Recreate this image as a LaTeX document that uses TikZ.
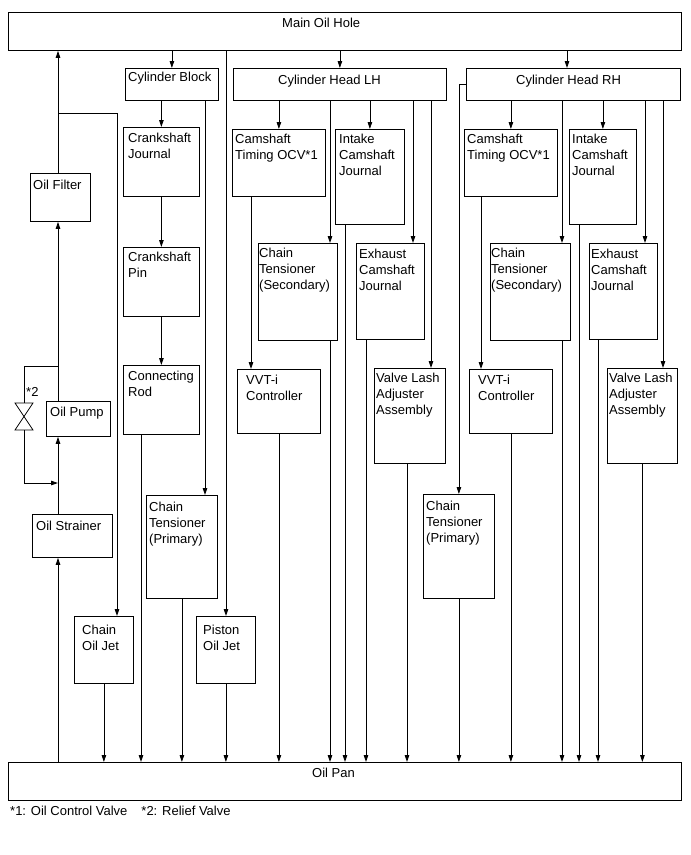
\documentclass[tikz,border=0pt]{standalone}
\usepackage{fontspec}
\setmainfont{Liberation Sans}
\usetikzlibrary{arrows.meta}

\begin{document}
\begin{tikzpicture}[x=1pt,y=-1pt,>={Triangle[length=7pt,width=4.5pt]},
  part/.style={draw,line width=0.8pt,anchor=north west,inner sep=0pt},
  lbl/.style={anchor=north west,align=left,inner xsep=3pt,inner ysep=5pt,font=\fontsize{13}{16}\selectfont},
  pipe/.style={line width=0.8pt}]
  \useasboundingbox (0,0) rectangle (691,855);

  % gallery and pan
  \node[part,minimum width=673,minimum height=38,label={[lbl,xshift=271pt,yshift=-1pt]north west:Main Oil Hole}] (hole) at (8,12) {};
  \node[part,minimum width=673,minimum height=38,label={[lbl,xshift=301pt,yshift=-1pt]north west:Oil Pan}] (pan) at (8,762) {};

  % pump side
  \node[part,minimum width=60,minimum height=48,label={[lbl,yshift=-2pt]north west:Oil Filter}] (filter) at (30,173) {};
  \node[part,minimum width=64,minimum height=35,label={[lbl,xshift=1pt,yshift=-1pt]north west:Oil Pump}] (pump) at (46,401) {};
  \node[part,minimum width=80,minimum height=43,label={[lbl,xshift=1pt,yshift=-2pt]north west:Oil Strainer}] (strainer) at (32,514) {};
  \node[part,minimum width=59,minimum height=67,label={[lbl,xshift=5pt,yshift=-4pt]north west:Chain\\Oil Jet}] (coj) at (74,616) {};
  \node[part,minimum width=59,minimum height=67,label={[lbl,xshift=4pt,yshift=-4pt]north west:Piston\\Oil Jet}] (poj) at (196,616) {};

  % cylinder block
  \node[part,minimum width=93,minimum height=32,label={[lbl,yshift=1pt]north west:Cylinder Block}] (cb) at (125,68) {};
  \node[part,minimum width=76,minimum height=69,label={[lbl,xshift=2pt,yshift=-1pt]north west:Crankshaft\\Journal}] (cj) at (123,127) {};
  \node[part,minimum width=76,minimum height=69,label={[lbl,xshift=2pt]north west:Crankshaft\\Pin}] (cp) at (123,247) {};
  \node[part,minimum width=76,minimum height=69,label={[lbl,xshift=2pt,yshift=-1pt]north west:Connecting\\Rod}] (cr) at (123,365) {};
  \node[part,minimum width=71,minimum height=103,label={[lbl,yshift=-2pt]north west:Chain\\Tensioner\\(Primary)}] (ctplh) at (146,495) {};

  % cylinder head LH
  \node[part,minimum width=213,minimum height=32,label={[lbl,xshift=42pt,yshift=-2pt]north west:Cylinder Head LH}] (chlh) at (233,68) {};
  \node[part,minimum width=93,minimum height=67,label={[lbl]north west:Camshaft\\Timing OCV*1}] (ocvlh) at (232,129) {};
  \node[part,minimum width=69,minimum height=95,label={[lbl,xshift=1pt]north west:Intake\\Camshaft\\Journal}] (icjlh) at (335,129) {};
  \node[part,minimum width=79,minimum height=97,label={[lbl,xshift=-2pt]north west:Chain\\Tensioner\\(Secondary)}] (ctslh) at (258,243) {};
  \node[part,minimum width=68,minimum height=96,label={[lbl,yshift=-1pt]north west:Exhaust\\Camshaft\\Journal}] (ecjlh) at (356,243) {};
  \node[part,minimum width=83,minimum height=64,label={[lbl,xshift=6pt,yshift=-1pt]north west:VVT-i\\Controller}] (vvtlh) at (237,369) {};
  \node[part,minimum width=71,minimum height=95,label={[lbl,xshift=-1pt]north west:Valve Lash\\Adjuster\\Assembly}] (vlalh) at (374,368) {};

  % cylinder head RH
  \node[part,minimum width=214,minimum height=32,label={[lbl,xshift=47pt,yshift=-2pt]north west:Cylinder Head RH}] (chrh) at (466,68) {};
  \node[part,minimum width=93,minimum height=67,label={[lbl]north west:Camshaft\\Timing OCV*1}] (ocvrh) at (464,129) {};
  \node[part,minimum width=67,minimum height=95,label={[lbl]north west:Intake\\Camshaft\\Journal}] (icjrh) at (569,129) {};
  \node[part,minimum width=80,minimum height=97,label={[lbl,xshift=-2pt]north west:Chain\\Tensioner\\(Secondary)}] (ctsrh) at (490,243) {};
  \node[part,minimum width=68,minimum height=96,label={[lbl,xshift=-1pt,yshift=-1pt]north west:Exhaust\\Camshaft\\Journal}] (ecjrh) at (589,243) {};
  \node[part,minimum width=83,minimum height=64,label={[lbl,xshift=6pt,yshift=-1pt]north west:VVT-i\\Controller}] (vvtrh) at (469,369) {};
  \node[part,minimum width=70,minimum height=95,label={[lbl,xshift=-1pt]north west:Valve Lash\\Adjuster\\Assembly}] (vlarh) at (607,368) {};
  \node[part,minimum width=71,minimum height=104,label={[lbl,yshift=-2pt]north west:Chain\\Tensioner\\(Primary)}] (ctprh) at (423,494) {};

  % relief valve
  \coordinate (vtop) at (24,403);
  \coordinate (vbot) at (24,430);
  \draw[pipe] (15,403) -- (33,403) -- (15,430) -- (33,430) -- cycle;
  \node[lbl,inner sep=0pt] (relief) at (26,387) {*2};

  % pump line
  \coordinate (filtertee) at (58,113);
  \coordinate (pumptee) at (58,366);
  \coordinate (strainertee) at (58,483);
  \draw[pipe,->] (58,0 |- pan.north) -- (58,0 |- strainer.south);
  \draw[pipe,->] (58,0 |- strainer.north) -- (58,0 |- pump.south);
  \draw[pipe,->] (58,0 |- pump.north) -- (58,0 |- filter.south);
  \draw[pipe,->] (58,0 |- filter.north) -- (58,0 |- hole.south);
  \draw[pipe,->] (filtertee) -- (117,113) -- (117,0 |- coj.north);
  \draw[pipe] (pumptee) -- (24,366) -- (vtop);
  \draw[pipe,->] (vbot) -- (24,483) -- (strainertee);

  % block
  \draw[pipe,->] (cb.north |- hole.south) -- (cb.north);
  \draw[pipe,->] (cj.north |- cb.south) -- (cj.north);
  \draw[pipe,->] (cj.south) -- (cp.north);
  \draw[pipe,->] (cp.south) -- (cr.north);
  \draw[pipe,->] (205,0 |- cb.south) -- (205,0 |- ctplh.north);
  \draw[pipe,->] (226,0 |- hole.south) -- (226,0 |- poj.north);

  % head LH
  \draw[pipe,->] (chlh.north |- hole.south) -- (chlh.north);
  \draw[pipe,->] (ocvlh.north |- chlh.south) -- (ocvlh.north);
  \draw[pipe,->] (330,0 |- chlh.south) -- (330,0 |- ctslh.north);
  \draw[pipe,->] (icjlh.north |- chlh.south) -- (icjlh.north);
  \draw[pipe,->] (413,0 |- chlh.south) -- (413,0 |- ecjlh.north);
  \draw[pipe,->] (431,0 |- chlh.south) -- (431,0 |- vlalh.north);
  \draw[pipe,->] (251,0 |- ocvlh.south) -- (251,0 |- vvtlh.north);

  % head RH
  \draw[pipe,->] (567,0 |- hole.south) -- (567,0 |- chrh.north);
  \draw[pipe,->] (chrh.west) -| (ctprh.north);
  \draw[pipe,->] (ocvrh.north |- chrh.south) -- (ocvrh.north);
  \draw[pipe,->] (562,0 |- chrh.south) -- (562,0 |- ctsrh.north);
  \draw[pipe,->] (icjrh.north |- chrh.south) -- (icjrh.north);
  \draw[pipe,->] (645,0 |- chrh.south) -- (645,0 |- ecjrh.north);
  \draw[pipe,->] (663,0 |- chrh.south) -- (663,0 |- vlarh.north);
  \draw[pipe,->] (481,0 |- ocvrh.south) -- (481,0 |- vvtrh.north);

  % returns to pan
  \draw[pipe,->] (coj.south) -- (coj.south |- pan.north);
  \draw[pipe,->] (141,0 |- cr.south) -- (141,0 |- pan.north);
  \draw[pipe,->] (ctplh.south) -- (ctplh.south |- pan.north);
  \draw[pipe,->] (poj.south) -- (poj.south |- pan.north);
  \draw[pipe,->] (vvtlh.south) -- (vvtlh.south |- pan.north);
  \draw[pipe,->] (330,0 |- ctslh.south) -- (330,0 |- pan.north);
  \draw[pipe,->] (345,0 |- icjlh.south) -- (345,0 |- pan.north);
  \draw[pipe,->] (366,0 |- ecjlh.south) -- (366,0 |- pan.north);
  \draw[pipe,->] (407,0 |- vlalh.south) -- (407,0 |- pan.north);
  \draw[pipe,->] (ctprh.south) -- (ctprh.south |- pan.north);
  \draw[pipe,->] (vvtrh.south) -- (vvtrh.south |- pan.north);
  \draw[pipe,->] (562,0 |- ctsrh.south) -- (562,0 |- pan.north);
  \draw[pipe,->] (579,0 |- icjrh.south) -- (579,0 |- pan.north);
  \draw[pipe,->] (598,0 |- ecjrh.south) -- (598,0 |- pan.north);
  \draw[pipe,->] (vlarh.south) -- (vlarh.south |- pan.north);

  % footnote
  \node[lbl,inner sep=0pt] (notes) at (10,806) {*1: Oil Control Valve\hspace{14pt}*2: Relief Valve};
\end{tikzpicture}
\end{document}
